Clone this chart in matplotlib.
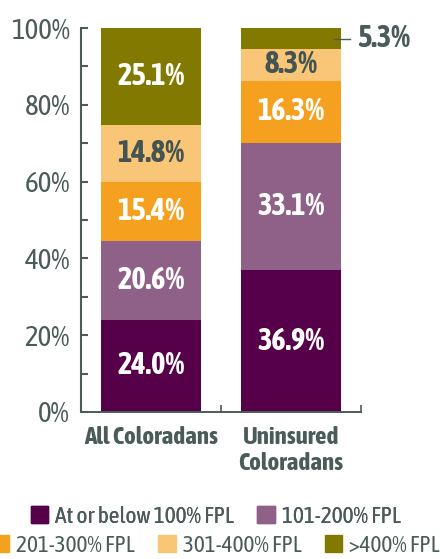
import matplotlib
matplotlib.use("Agg")
import matplotlib.pyplot as plt
import matplotlib.patches as mpatches
import numpy as np

plt.rcParams['font.family'] = ['Asap Condensed', 'DejaVu Sans']

groups = ['All Coloradans', 'Uninsured\nColoradans']
levels = ['At or below 100% FPL', '101-200% FPL', '201-300% FPL',
          '301-400% FPL', '>400% FPL']
all_co = [24.0, 20.6, 15.4, 14.8, 25.1]
uninsured = [36.9, 33.1, 16.3, 8.3, 5.3]
colors = ['#57004A', '#8F6189', '#F5A01E', '#F9C677', '#827A00']
label_colors = ['white', 'white', 'white', '#435452', 'white']
ink = '#4A5B59'

fig = plt.figure(figsize=(4.4, 5.59), dpi=100)
ax = fig.add_axes([81 / 440, 1 - 412 / 559, 280 / 440, 384 / 559])

x = np.arange(len(groups))
width = 0.72
data = np.array([all_co, uninsured])
bottom = np.zeros(len(groups))
for i, lev in enumerate(levels):
    vals = data[:, i]
    ax.bar(x, vals, width, bottom=bottom, color=colors[i], label=lev)
    for j in range(len(groups)):
        if vals[j] < 6:
            # small segment: label outside with leader line
            yc = bottom[j] + vals[j] / 2
            ax.plot([x[j] + width / 2 - 0.05, x[j] + width / 2 + 0.06],
                    [yc, yc], color=ink, lw=1, clip_on=False)
            ax.text(x[j] + width / 2 + 0.11, yc, '%.1f%%' % vals[j],
                    ha='left', va='center', fontsize=22, fontweight='bold',
                    color=ink, clip_on=False)
        else:
            ax.text(x[j], bottom[j] + vals[j] / 2, '%.1f%%' % vals[j],
                    ha='center', va='center', fontsize=22, fontweight='bold',
                    color=label_colors[i])
    bottom += vals

ax.set_xlim(-0.5, 1.5)
ax.set_ylim(0, 100)

ax.set_yticks(np.arange(0, 101, 20))
ax.set_yticklabels(['%d%%' % v for v in range(0, 101, 20)])
ax.set_yticks(np.arange(0, 101, 10), minor=True)
ax.tick_params(axis='y', which='both', direction='in', length=5, width=1.5,
               color=ink, labelcolor=ink, labelsize=21, pad=8)

ax.set_xticks(x)
ax.set_xticklabels(groups, fontsize=18, fontweight='bold', color=ink,
                   linespacing=1.2)
ax.set_xticks([0.5, 1.5], minor=True)
ax.tick_params(axis='x', which='major', length=0, pad=10)
ax.tick_params(axis='x', which='minor', direction='in', length=5, width=1.2,
               color=ink)

for s in ['top', 'right']:
    ax.spines[s].set_visible(False)
ax.spines['left'].set_color(ink)
ax.spines['left'].set_linewidth(1.5)
ax.spines['bottom'].set_color(ink)
ax.spines['bottom'].set_linewidth(1.4)

handles = [mpatches.Patch(color=c) for c in colors]
leg_kw = dict(loc='center', frameon=False, fontsize=16.8, handlelength=0.75,
              handleheight=0.75, handletextpad=0.3, columnspacing=1.0,
              labelcolor=ink, borderpad=0)
leg1 = fig.legend(handles[:2], levels[:2], ncol=2,
                  bbox_to_anchor=(0.49, 1 - 517 / 559), **leg_kw)
fig.add_artist(leg1)
fig.legend(handles[2:], levels[2:], ncol=3,
           bbox_to_anchor=(0.49, 1 - 546 / 559), **leg_kw)

fig.savefig('out.png', dpi=100)
